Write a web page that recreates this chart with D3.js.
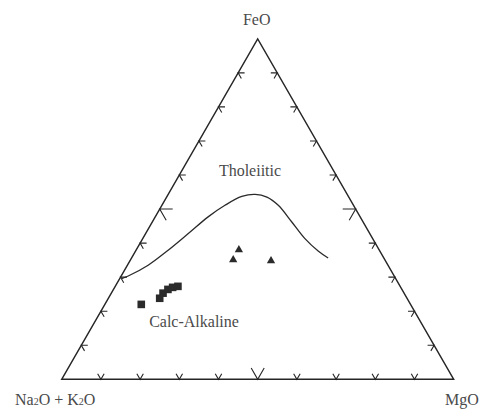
<!DOCTYPE html>
<html>
<head>
<meta charset="utf-8">
<script src="https://cdn.jsdelivr.net/npm/d3@7/dist/d3.min.js"></script>
<style>
  html, body { margin: 0; padding: 0; background: #fff; }
  svg { display: block; }
  text { font-family: "Liberation Serif", "Times New Roman", serif; fill: #4a4a4a; }
</style>
</head>
<body>
<svg id="chart" width="487" height="411"></svg>
<script>
// AFM ternary diagram: A = Na2O + K2O, F = FeO, M = MgO (percent)

// Tholeiitic / calc-alkaline dividing line, as [FeO, Na2O+K2O, MgO]
const boundaryFeO = [29.6, 30.3, 33.5, 37.9, 42.8, 47.7, 51.1, 53.7, 54.3, 53.5, 51.1, 46.2, 41.3, 37.6, 35.6];
const boundaryAlk = [69.9, 67.8, 61.2, 53.9, 46.3, 38.8, 32.8, 27.2, 23.5, 20.9, 19.2, 18.2, 17.3, 15.7, 14.2];
const boundaryMgO = [0.5, 1.8, 5.3, 8.2, 10.9, 13.5, 16.1, 19.1, 22.2, 25.6, 29.7, 35.6, 41.4, 46.7, 50.1];

// Samples plotted as squares
const squareFeO = [22.0, 23.8, 25.3, 26.4, 27.0, 27.3];
const squareAlk = [68.7, 63.1, 61.5, 59.7, 58.2, 56.7];
const squareMgO = [9.3, 13.1, 13.2, 13.9, 14.8, 16.0];

// Samples plotted as triangles
const triangleFeO = [38.0, 35.1, 34.8];
const triangleAlk = [35.8, 38.7, 29.2];
const triangleMgO = [26.2, 26.2, 36.0];

// Edge ticks (percent along each edge)
const tickValues = [10, 20, 30, 40, 50, 60, 70, 80, 90];
const majorTick = 50;

const vertexLabels = ["FeO", "Na2O + K2O", "MgO"];
const fieldLabels = ["Tholeiitic", "Calc-Alkaline"];

const svg = d3.select("#chart");

// Horizontal position driven by (MgO + FeO/2), vertical by FeO
const x = d3.scaleLinear().domain([0, 100]).range([61.7, 453.7]);
const y = d3.scaleLinear().domain([0, 100]).range([379.3, 38.8]);

function project(f, a, m) {
  const s = f + a + m;
  const fn = 100 * f / s, mn = 100 * m / s;
  return [x(mn + fn / 2), y(fn)];
}

const edgeColor = "#262626";

// Outline of the triangle
const corners = [project(100, 0, 0), project(0, 100, 0), project(0, 0, 100)];
svg.append("path")
  .attr("d", d3.line()(corners) + "Z")
  .attr("fill", "none")
  .attr("stroke", edgeColor)
  .attr("stroke-width", 1.4)
  .attr("stroke-linejoin", "miter");

// Chevron ticks, arms run parallel to the two other edges
const c60 = Math.cos(Math.PI / 3), s60 = Math.sin(Math.PI / 3);
const tickG = svg.append("g")
  .attr("fill", "none")
  .attr("stroke", edgeColor)
  .attr("stroke-width", 1.1);

function chevron(p, d1, d2, len) {
  const path = d3.path();
  path.moveTo(p[0] + d1[0] * len, p[1] + d1[1] * len);
  path.lineTo(p[0], p[1]);
  path.lineTo(p[0] + d2[0] * len, p[1] + d2[1] * len);
  tickG.append("path").attr("d", path.toString());
}

tickValues.forEach(t => {
  const len = t === majorTick ? 13 : 6.5;
  // left edge (A–F): FeO = t
  chevron(project(t, 100 - t, 0), [1, 0], [c60, s60], len);
  // bottom edge (A–M): MgO = t
  chevron(project(0, 100 - t, t), [-c60, -s60], [c60, -s60], len);
  // right edge (M–F): FeO = t
  chevron(project(t, 0, 100 - t), [-1, 0], [-c60, s60], len);
});

// Dividing line
const boundary = boundaryFeO.map((f, i) => project(f, boundaryAlk[i], boundaryMgO[i]));
svg.append("path")
  .attr("d", d3.line().curve(d3.curveCatmullRom.alpha(0.5))(boundary))
  .attr("fill", "none")
  .attr("stroke", "#2a2a2a")
  .attr("stroke-width", 1.3);

// Square samples
const sq = 7.6;
svg.append("g").selectAll("rect")
  .data(squareFeO.map((f, i) => project(f, squareAlk[i], squareMgO[i])))
  .join("rect")
  .attr("x", d => d[0] - sq / 2)
  .attr("y", d => d[1] - sq / 2)
  .attr("width", sq)
  .attr("height", sq)
  .attr("fill", "#2b2b2b");

// Triangle samples
const triSym = d3.symbol().type(d3.symbolTriangle).size(30);
svg.append("g").selectAll("path")
  .data(triangleFeO.map((f, i) => project(f, triangleAlk[i], triangleMgO[i])))
  .join("path")
  .attr("d", triSym)
  .attr("transform", d => `translate(${d[0]},${d[1]})`)
  .attr("fill", "#2b2b2b");

// Vertex labels
const apexPt = project(100, 0, 0);
svg.append("text")
  .attr("x", apexPt[0] - 1).attr("y", 25)
  .attr("text-anchor", "middle")
  .attr("font-size", 16)
  .text(vertexLabels[0]);

const alkLabel = svg.append("text")
  .attr("x", 15).attr("y", 405)
  .attr("font-size", 16);
alkLabel.append("tspan").text("Na");
alkLabel.append("tspan").attr("font-size", 10).text("2");
alkLabel.append("tspan").text("O + K");
alkLabel.append("tspan").attr("font-size", 10).text("2");
alkLabel.append("tspan").text("O");

svg.append("text")
  .attr("x", 462).attr("y", 405)
  .attr("text-anchor", "middle")
  .attr("font-size", 16)
  .text(vertexLabels[2]);

// Field labels
svg.append("text")
  .attr("x", 250).attr("y", 176)
  .attr("text-anchor", "middle")
  .attr("font-size", 16)
  .text(fieldLabels[0]);

svg.append("text")
  .attr("x", 194).attr("y", 327)
  .attr("text-anchor", "middle")
  .attr("font-size", 16)
  .text(fieldLabels[1]);
</script>
</body>
</html>
